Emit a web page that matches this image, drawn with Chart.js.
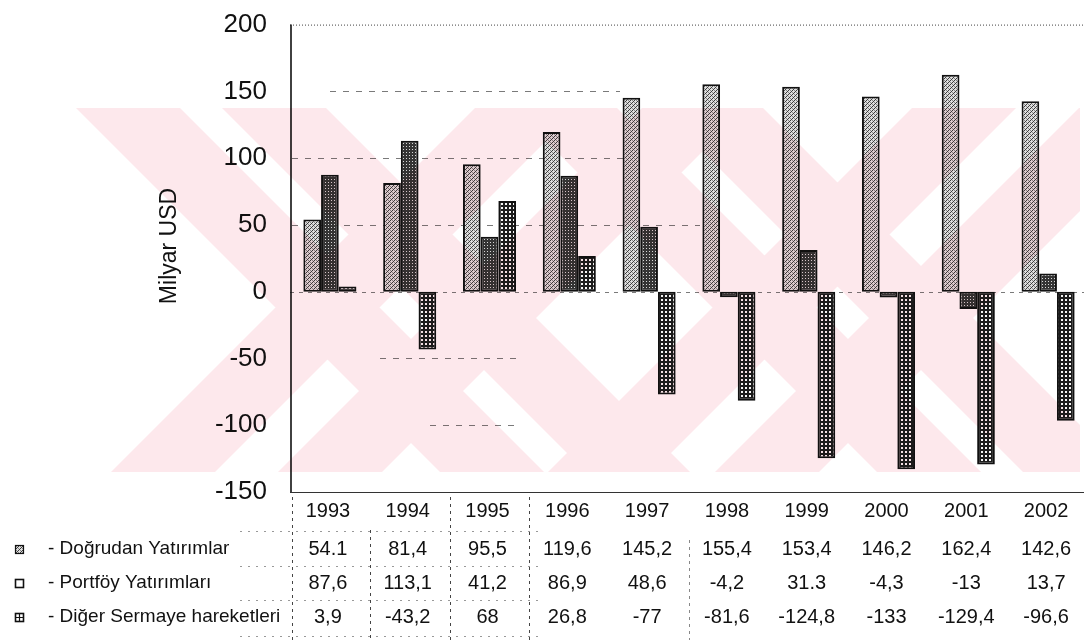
<!DOCTYPE html>
<html>
<head>
<meta charset="utf-8">
<title>Sermaye hareketleri 1993-2002</title>
<script src="https://cdn.jsdelivr.net/npm/chart.js@4.4.1/dist/chart.umd.min.js"></script>
<style>
  html, body { margin: 0; padding: 0; background: #fff; overflow: hidden; }
  #wrap { position: relative; width: 1084px; height: 643px; overflow: hidden; }
  #wrap canvas { position: absolute; left: 0; top: -14px; }
</style>
</head>
<body>
<div id="wrap"><canvas id="chart" width="1092" height="657"></canvas></div>
<script>
// Years shown along the bottom of the chart and in the data table
const years = ['1993', '1994', '1995', '1996', '1997', '1998', '1999', '2000', '2001', '2002'];

// Table cells, written exactly as printed (mostly decimal commas)
const dogrudanText = ['54.1', '81,4', '95,5', '119,6', '145,2', '155,4', '153,4', '146,2', '162,4', '142,6'];
const portfoyText  = ['87,6', '113,1', '41,2', '86,9', '48,6', '-4,2', '31.3', '-4,3', '-13', '13,7'];
const digerText    = ['3,9', '-43,2', '68', '26,8', '-77', '-81,6', '-124,8', '-133', '-129,4', '-96,6'];

// Series names as listed in the table legend
const seriesNames = ['- Doğrudan Yatırımlar', '- Portföy Yatırımları', '- Diğer Sermaye hareketleri'];

// Value axis
const yMin = -150;
const yMax = 200;
const yStep = 50;
const yTitle = 'Milyar USD';

// Numeric values used for the bars come from the same printed cells
const toNumber = s => parseFloat(s.replace(',', '.'));
const dogrudan = dogrudanText.map(toNumber);
const portfoy  = portfoyText.map(toNumber);
const diger    = digerText.map(toNumber);

const canvas = document.getElementById('chart');
const ctx0 = canvas.getContext('2d');
const FONT = '"Liberation Sans", Arial, Helvetica, sans-serif';
// the canvas sits 14px above the page top; page-space drawing is shifted by this
const SHIFT = 14;

// Small greyscale tiles used as bar fills
function tile(size, shade) {
  const c = document.createElement('canvas');
  c.width = c.height = size;
  const g = c.getContext('2d');
  const img = g.createImageData(size, size);
  for (let y = 0; y < size; y++) {
    for (let x = 0; x < size; x++) {
      const v = shade(x, y);
      const i = (y * size + x) * 4;
      img.data[i] = img.data[i + 1] = img.data[i + 2] = v;
      img.data[i + 3] = 255;
    }
  }
  g.putImageData(img, 0, 0);
  return ctx0.createPattern(c, 'repeat');
}

// light stipple, dense dark mesh, and white dots on a black grid
const fillDirect = tile(4, (x, y) => (x + y) % 4 === 0 ? 60 : ((x + 3 * y) % 4 === 2 ? 135 : 222));
const fillPortfolio = tile(3, (x, y) => (x === 1 && y === 1) ? 215 : 52);
const fillOther = tile(4, (x, y) => ((x === 1 || x === 2) && (y === 1 || y === 2)) ? 246 : 28);

// Row positions of the data table below the plot (page coordinates)
const tableRows = { years: 511, rows: [549, 583, 617] };

// Faint diagonal stamp printed over the page
const stampPlugin = {
  id: 'stamp',
  afterDraw(chart) {
    const { ctx } = chart;
    const x0 = 74, x1 = 1080, y0 = 108, y1 = 472, mid = 290, half = 52;
    // centre of each band at the middle row, and its slope (dx per dy)
    const bands = [
      [310, 1], [456, 1], [345, -1], [512, -1],
      [747, 1], [893, 1], [782, -1], [949, -1]
    ];
    ctx.save();
    ctx.translate(0, SHIFT);
    ctx.beginPath();
    ctx.rect(x0, y0, x1 - x0, y1 - y0);
    ctx.clip();
    ctx.globalCompositeOperation = 'multiply';
    ctx.fillStyle = 'rgb(253,232,236)';
    ctx.beginPath();
    bands.forEach(([cx, s]) => {
      const xt = cx + s * (y0 - mid);
      const xb = cx + s * (y1 - mid);
      ctx.moveTo(xt - half, y0);
      ctx.lineTo(xt + half, y0);
      ctx.lineTo(xb + half, y1);
      ctx.lineTo(xb - half, y1);
      ctx.closePath();
    });
    ctx.fill('nonzero');
    ctx.restore();
  }
};

// Plot frame and the broken reference lines
const framePlugin = {
  id: 'frame',
  beforeDatasetsDraw(chart) {
    const { ctx, chartArea: { left, right, top, bottom }, scales: { y } } = chart;
    ctx.save();
    const line = (xa, ya, xb, yb) => { ctx.beginPath(); ctx.moveTo(xa, ya); ctx.lineTo(xb, yb); ctx.stroke(); };

    ctx.strokeStyle = '#7a7a7a';
    ctx.lineWidth = 1;
    ctx.setLineDash([6, 7]);
    const spans = { 150: [330, 620], 100: [292, 640], 50: [292, 700], '-50': [380, 520], '-100': [430, 520] };
    Object.keys(spans).forEach(v => {
      const py = Math.round(y.getPixelForValue(Number(v))) + 0.5;
      line(spans[v][0], py, spans[v][1], py);
    });
    ctx.setLineDash([4, 5]);
    const z = Math.round(y.getPixelForValue(0)) + 0.5;
    line(left, z, right, z);

    // top edge, dotted
    ctx.setLineDash([1, 2]);
    ctx.strokeStyle = '#444';
    line(left, top + 0.5, right, top + 0.5);

    // value axis and bottom edge
    ctx.setLineDash([]);
    ctx.strokeStyle = '#111';
    ctx.lineWidth = 1.6;
    line(left + 1, top, left + 1, bottom + 1);
    ctx.lineWidth = 1.2;
    ctx.strokeStyle = '#333';
    line(left, bottom + 0.5, right, bottom + 0.5);
    ctx.restore();
  }
};

// Axis title, data table and its legend keys
const tablePlugin = {
  id: 'table',
  afterDraw(chart) {
    const { ctx, scales: { x } } = chart;
    ctx.save();
    ctx.translate(0, SHIFT);
    ctx.fillStyle = '#111';

    // axis title
    ctx.save();
    ctx.translate(170, 246);
    ctx.rotate(-Math.PI / 2);
    ctx.font = '23px ' + FONT;
    ctx.textAlign = 'center';
    ctx.textBaseline = 'middle';
    ctx.fillText(yTitle, 0, 0);
    ctx.restore();

    // column separators
    ctx.strokeStyle = '#444';
    ctx.lineWidth = 1;
    ctx.setLineDash([3, 4]);
    const sep = (px, ya, yb) => { ctx.beginPath(); ctx.moveTo(px, ya); ctx.lineTo(px, yb); ctx.stroke(); };
    const edge = i => Math.round((x.getPixelForValue(i - 1) + x.getPixelForValue(i)) / 2) + 0.5;
    sep(292.5, 497, 640);
    sep(edge(1), 530, 640);
    sep(edge(2), 497, 640);
    sep(edge(3), 497, 640);
    ctx.strokeStyle = '#888';
    sep(edge(5), 540, 640);
    ctx.setLineDash([2, 6]);
    ctx.strokeStyle = '#999';
    [531, 566, 600, 636].forEach(py => {
      ctx.beginPath(); ctx.moveTo(240, py + 0.5); ctx.lineTo(540, py + 0.5); ctx.stroke();
    });
    ctx.setLineDash([]);

    // table text
    ctx.font = '20px ' + FONT;
    ctx.textAlign = 'center';
    ctx.textBaseline = 'middle';
    const cols = [dogrudanText, portfoyText, digerText];
    years.forEach((yr, i) => {
      const cx = x.getPixelForValue(i) - 2;
      ctx.fillText(yr, cx, tableRows.years);
      cols.forEach((col, k) => ctx.fillText(col[i], cx, tableRows.rows[k]));
    });

    // legend names
    ctx.font = '19px ' + FONT;
    ctx.textAlign = 'left';
    seriesNames.forEach((name, k) => ctx.fillText(name, 48, tableRows.rows[k]));

    // legend keys
    const kx = 15, ks = 8;
    ctx.lineWidth = 1.2;
    ctx.strokeStyle = '#111';
    let ky = tableRows.rows[0] - 4;
    ctx.fillStyle = fillDirect;
    ctx.fillRect(kx, ky, ks, ks);
    ctx.strokeRect(kx + 0.5, ky + 0.5, ks, ks);
    ky = tableRows.rows[1] - 4;
    ctx.fillStyle = '#fff';
    ctx.lineWidth = 1.6;
    ctx.strokeRect(kx + 0.5, ky + 0.5, ks, ks);
    ky = tableRows.rows[2] - 4;
    ctx.fillStyle = '#fff';
    ctx.fillRect(kx, ky, ks, ks);
    ctx.strokeRect(kx + 0.5, ky + 0.5, ks, ks);
    ctx.lineWidth = 1.2;
    ctx.beginPath();
    ctx.moveTo(kx + 0.5 + ks / 2, ky); ctx.lineTo(kx + 0.5 + ks / 2, ky + ks + 1);
    ctx.moveTo(kx, ky + 0.5 + ks / 2); ctx.lineTo(kx + ks + 1, ky + 0.5 + ks / 2);
    ctx.stroke();
    ctx.restore();
  }
};

const barStyle = { borderColor: '#111', borderWidth: 2, borderSkipped: false };

new Chart(canvas, {
  type: 'bar',
  data: {
    labels: years,
    datasets: [
      Object.assign({ label: seriesNames[0], data: dogrudan, backgroundColor: fillDirect }, barStyle),
      Object.assign({ label: seriesNames[1], data: portfoy, backgroundColor: fillPortfolio }, barStyle),
      Object.assign({ label: seriesNames[2], data: diger, backgroundColor: fillOther }, barStyle)
    ]
  },
  options: {
    responsive: false,
    animation: false,
    devicePixelRatio: 1,
    layout: { padding: { top: 10, bottom: 151, left: 0, right: 4 } },
    datasets: { bar: { categoryPercentage: 0.665, barPercentage: 1.0 } },
    plugins: { legend: { display: false }, tooltip: { enabled: false } },
    scales: {
      x: { display: false },
      y: {
        min: yMin,
        max: yMax,
        ticks: { stepSize: yStep, color: '#111', padding: 23, font: { size: 26, family: FONT } },
        grid: { display: false, drawTicks: false },
        border: { display: false },
        afterFit(scale) { scale.width = 290; }
      }
    }
  },
  plugins: [framePlugin, tablePlugin, stampPlugin]
});
</script>
</body>
</html>
